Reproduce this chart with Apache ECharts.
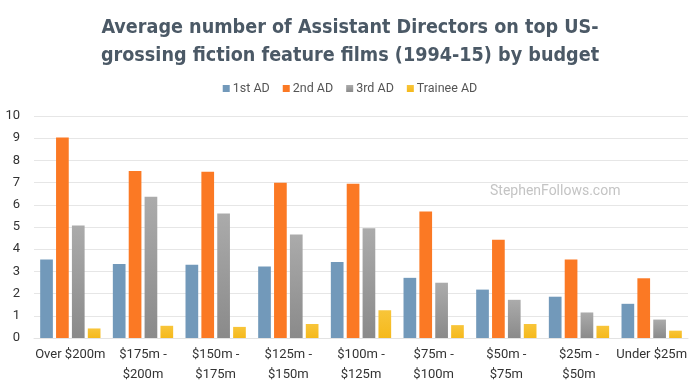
<!DOCTYPE html>
<html><head><meta charset="utf-8">
<script src="https://cdn.jsdelivr.net/npm/echarts@6/dist/echarts.min.js"></script>
<style>html,body{margin:0;padding:0;background:#fff}#c{width:700px;height:385px}</style>
</head><body><div id="c"></div>
<script>
const categories = ['Over $200m', '$175m -\n$200m', '$150m -\n$175m', '$125m -\n$150m', '$100m -\n$125m', '$75m -\n$100m', '$50m -\n$75m', '$25m -\n$50m', 'Under $25m'];
const firstAD = [3.54, 3.33, 3.30, 3.22, 3.42, 2.71, 2.18, 1.86, 1.54];
const secondAD = [9.03, 7.52, 7.49, 6.99, 6.95, 5.70, 4.43, 3.54, 2.69];
const thirdAD = [5.07, 6.36, 5.61, 4.66, 4.94, 2.49, 1.72, 1.15, 0.83];
const traineeAD = [0.43, 0.55, 0.50, 0.63, 1.25, 0.58, 0.63, 0.55, 0.33];
const seriesNames = ['1st AD', '2nd AD', '3rd AD', 'Trainee AD'];
const titleText = 'Average number of Assistant Directors on top US-\ngrossing fiction feature films (1994-15) by budget';

const chart = echarts.init(document.getElementById('c'), null, {renderer: 'canvas'});
const grad = (a, b) => new echarts.graphic.LinearGradient(0, 0, 0, 1, [{offset: 0, color: a}, {offset: 1, color: b}]);
const font = 'Roboto, "Liberation Sans", sans-serif';
chart.setOption({
  animation: false,
  backgroundColor: '#ffffff',
  title: {
    text: titleText, left: 'center', top: 9,
    textStyle: {fontFamily: '"DejaVu Sans Condensed", Roboto, sans-serif', fontWeight: 'bold', fontSize: 19.6, lineHeight: 28, color: '#4b5966'}
  },
  legend: {
    data: seriesNames, top: 77, left: 'center', itemWidth: 7, itemHeight: 7, itemGap: 13,
    icon: 'rect',
    textStyle: {fontFamily: font, fontSize: 12.5, color: '#555', padding: [0, 0, 0, -2]}
  },
  grid: {left: 34, right: 12, top: 116, bottom: 47, containLabel: false},
  xAxis: {
    type: 'category', data: categories,
    axisLine: {show: true, lineStyle: {color: '#e3e3e3'}},
    axisTick: {show: false},
    axisLabel: {fontFamily: font, fontSize: 13, color: '#333', lineHeight: 20, margin: 7, interval: 0}
  },
  yAxis: {
    type: 'value', min: 0, max: 10, interval: 1,
    axisLine: {show: false}, axisTick: {show: false},
    axisLabel: {fontFamily: font, fontSize: 13, color: '#333', margin: 14},
    splitLine: {lineStyle: {color: '#e6e6e6'}}
  },
  series: [
    {name: seriesNames[0], type: 'bar', data: firstAD, itemStyle: {color: '#7299ba'}, barGap: '25%', barCategoryGap: '17%'},
    {name: seriesNames[1], type: 'bar', data: secondAD, itemStyle: {color: '#fb7924'}},
    {name: seriesNames[2], type: 'bar', data: thirdAD, itemStyle: {color: grad('#ababab', '#8a8a8a')}},
    {name: seriesNames[3], type: 'bar', data: traineeAD, itemStyle: {color: grad('#f8c53a', '#f5b91c')}}
  ],
  graphic: [{
    type: 'text', left: 490, top: 184,
    style: {text: 'StephenFollows.com', fill: '#c4c4c4', font: '14px Roboto, sans-serif'}
  }]
});
</script></body></html>
